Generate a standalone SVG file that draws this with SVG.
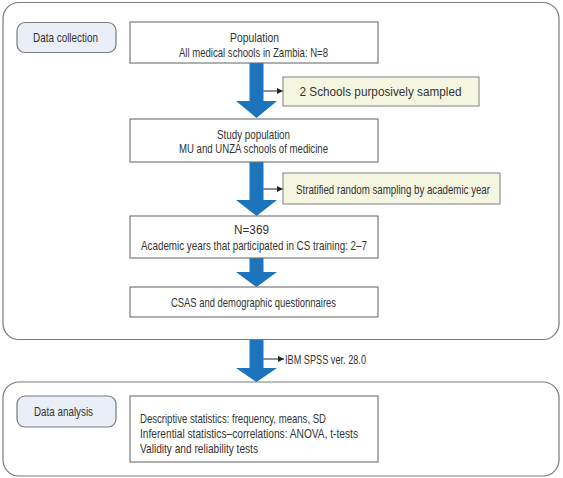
<svg xmlns="http://www.w3.org/2000/svg" width="563" height="478" viewBox="0 0 563 478">
<defs>
<style>
.panel{fill:#fff;stroke:#7a7a7a;stroke-width:1.2}
.pill{fill:#e9eef7;stroke:#7a7a7a;stroke-width:1.2}
.box{fill:#fff;stroke:#6e6e6e;stroke-width:1.1}
.side{fill:#f5f6e1;stroke:#8a8a8a;stroke-width:1.1}
.big{fill:#1c74bd}
.thin{stroke:#222;stroke-width:1;fill:none;marker-end:url(#ah)}
text{font-family:"Liberation Sans Narrow","Liberation Sans",Arial,sans-serif;font-size:13.5px;fill:#333}
.c{text-anchor:middle}
</style>
<marker id="ah" viewBox="0 0 6 6" refX="6" refY="3" markerWidth="6" markerHeight="6" markerUnits="userSpaceOnUse" orient="auto">
<path d="M0,0 L6,3 L0,6 z" fill="#222"/>
</marker>
</defs>
<rect class="panel" x="3" y="2.5" width="556" height="337" rx="16"/>
<rect class="panel" x="3" y="382" width="556" height="94" rx="16"/>
<g id="connectors">
<path class="big" d="M249.5,63 h14 v38 h13.5 l-20.5,17 l-20.5,-17 h13.5 z"/>
<path class="big" d="M249.5,162 h14 v38 h13.5 l-20.5,16 l-20.5,-16 h13.5 z"/>
<path class="big" d="M249.5,258 h14 v14 h13.5 l-20.5,15 l-20.5,-15 h13.5 z"/>
<path class="big" d="M249.5,340 h14 v28 h13.5 l-20.5,14 l-20.5,-14 h13.5 z"/>
<line class="thin" x1="263.5" y1="91" x2="283" y2="91"/>
<line class="thin" x1="263.5" y1="189" x2="283" y2="189"/>
<line class="thin" x1="263.5" y1="359" x2="284" y2="359"/>
</g>
<g id="data-collection">
<rect class="pill" x="17" y="22.5" width="99" height="30" rx="8"/>
<text class="c" x="65.5" y="42" textLength="65" lengthAdjust="spacingAndGlyphs">Data collection</text>
</g>
<g id="population">
<rect class="box" x="130" y="22" width="248" height="41"/>
<text class="c" x="254.5" y="41.5" textLength="49" lengthAdjust="spacingAndGlyphs">Population</text>
<text class="c" x="253.5" y="56.5" textLength="149" lengthAdjust="spacingAndGlyphs">All medical schools in Zambia: N=8</text>
</g>
<g id="purposive">
<rect class="side" x="283" y="77" width="196" height="29"/>
<text class="c" x="380.5" y="95.5" textLength="162" lengthAdjust="spacingAndGlyphs">2 Schools purposively sampled</text>
</g>
<g id="study-population">
<rect class="box" x="130" y="119" width="248" height="43"/>
<text class="c" x="253.5" y="138.5" textLength="73" lengthAdjust="spacingAndGlyphs">Study population</text>
<text class="c" x="253.5" y="153" textLength="149" lengthAdjust="spacingAndGlyphs">MU and UNZA schools of medicine</text>
</g>
<g id="stratified">
<rect class="side" x="283" y="173" width="217" height="31"/>
<text class="c" x="393" y="193.5" textLength="194" lengthAdjust="spacingAndGlyphs">Stratified random sampling by academic year</text>
</g>
<g id="n369">
<rect class="box" x="130" y="216" width="248" height="42"/>
<text class="c" x="251.5" y="234" textLength="35" lengthAdjust="spacingAndGlyphs">N=369</text>
<text class="c" x="254" y="249.5" textLength="226" lengthAdjust="spacingAndGlyphs">Academic years that participated in CS training: 2–7</text>
</g>
<g id="csas">
<rect class="box" x="130" y="287" width="248" height="30"/>
<text class="c" x="253.5" y="306.5" textLength="165" lengthAdjust="spacingAndGlyphs">CSAS and demographic questionnaires</text>
</g>
<g id="spss">
<text x="285" y="364" textLength="81" lengthAdjust="spacingAndGlyphs">IBM SPSS ver. 28.0</text>
</g>
<g id="data-analysis">
<rect class="pill" x="17" y="396" width="99" height="31" rx="8"/>
<text class="c" x="63.5" y="416" textLength="59" lengthAdjust="spacingAndGlyphs">Data analysis</text>
</g>
<g id="statistics">
<rect class="box" x="130" y="396" width="248" height="66"/>
<text x="140" y="423" textLength="186" lengthAdjust="spacingAndGlyphs">Descriptive statistics: frequency, means, SD</text>
<text x="140" y="438" textLength="218" lengthAdjust="spacingAndGlyphs">Inferential statistics–correlations: ANOVA, t-tests</text>
<text x="140" y="452.5" textLength="118" lengthAdjust="spacingAndGlyphs">Validity and reliability tests</text>
</g>
</svg>
